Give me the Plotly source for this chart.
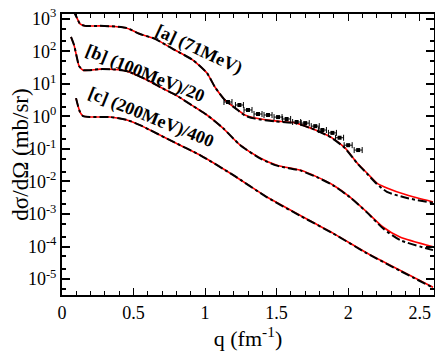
import math

import plotly.graph_objects as go

# curve [a] 71 MeV
q_a = [0.077, 0.105, 0.126, 0.161, 0.266, 0.370, 0.454, 0.545, 0.650, 0.776, 0.915, 1.013, 1.069,
       1.139, 1.209, 1.279, 1.349, 1.488, 1.628, 1.768, 1.887, 1.978, 2.062, 2.131, 2.201, 2.271,
       2.411, 2.593]
a_red = [1.86e3, 1.05e3, 692, 603, 603, 575, 513, 339, 240, 117, 53.7, 21.4, 7.94,
         3.16, 1.82, 1.10, 0.891, 0.724, 0.631, 0.389, 0.219, 0.107, 0.0372, 0.0182, 8.91e-3, 6.31e-3,
         3.80e-3, 2.34e-3]
a_black = [1.86e3, 1.05e3, 692, 603, 603, 575, 513, 339, 240, 117, 53.7, 21.4, 7.94,
           3.16, 1.82, 1.05, 0.85, 0.70, 0.62, 0.385, 0.215, 0.105, 0.0365, 0.0175, 8.3e-3, 4.79e-3,
           3.09e-3, 2.19e-3]

# curve [b] 100 MeV / 20
q_b = [0.063, 0.084, 0.105, 0.119, 0.147, 0.196, 0.266, 0.370, 0.454, 0.580, 0.685, 0.804, 0.915,
       1.013, 1.125, 1.244, 1.384, 1.502, 1.663, 1.782, 1.894, 2.013, 2.131, 2.243, 2.362, 2.593]
b_red = [275, 155, 61.7, 35.5, 26.3, 26.3, 28.2, 27.5, 24.5, 14.1, 7.94, 4.27, 2.09,
         1.10, 0.437, 0.132, 0.0525, 0.0316, 0.0224, 0.0138, 7.76e-3, 3.31e-3, 1.15e-3, 3.98e-4,
         1.95e-4, 9.77e-5]
b_black = [275, 155, 61.7, 35.5, 26.3, 26.3, 28.2, 27.5, 24.5, 14.1, 7.94, 4.27, 2.09,
           1.10, 0.437, 0.132, 0.0510, 0.0305, 0.0218, 0.0135, 7.6e-3, 3.25e-3, 1.12e-3, 3.63e-4,
           1.58e-4, 7.76e-5]

# curve [c] 200 MeV / 400
q_c = [0.098, 0.112, 0.126, 0.147, 0.196, 0.266, 0.335, 0.454, 0.545, 0.615, 0.776, 0.964, 1.195,
       1.433, 1.663, 1.894, 2.131, 2.362, 2.593]
c_red = [3.63, 2.09, 1.35, 1.02, 0.955, 0.955, 0.955, 0.776, 0.537, 0.380, 0.166, 0.0646, 0.0158,
         3.31e-3, 9.12e-4, 2.57e-4, 6.31e-5, 1.86e-5, 5.62e-6]
c_black = [3.63, 2.09, 1.35, 1.02, 0.955, 0.955, 0.955, 0.776, 0.537, 0.380, 0.166, 0.0646, 0.0158,
           3.25e-3, 8.9e-4, 2.52e-4, 6.2e-5, 1.80e-5, 5.4e-6]

# 71 MeV data points
q_data = [1.16, 1.24, 1.30, 1.37, 1.44, 1.51, 1.57, 1.64, 1.70, 1.77, 1.82, 1.89, 1.94, 2.00, 2.07]
y_data = [2.76, 2.23, 1.57, 1.18, 1.10, 0.95, 0.83, 0.67, 0.62, 0.50, 0.38, 0.31, 0.22, 0.13, 0.092]
qerr_data = [0.028] * len(q_data)

labels = ["[a] (71MeV)", "[b] (100MeV)/20", "[c] (200MeV)/400"]
label_q = [0.955, 0.58, 0.622]
label_y = [110, 21.4, 0.89]
label_angle = [25, 22, 22]

ytick_vals = [1e-5, 1e-4, 1e-3, 1e-2, 1e-1, 1, 10, 100, 1000]
ytick_text = ["10<sup>-5</sup>", "10<sup>-4</sup>", "10<sup>-3</sup>", "10<sup>-2</sup>",
              "10<sup>-1</sup>", "10<sup>0</sup>", "10<sup>1</sup>", "10<sup>2</sup>", "10<sup>3</sup>"]
xtick_vals = [0, 0.5, 1, 1.5, 2, 2.5]
xtick_text = ["0", "0.5", "1", "1.5", "2", "2.5"]

SERIF = "Times New Roman, Liberation Serif, serif"
fig = go.Figure()
for q, red, black in [(q_a, a_red, a_black), (q_b, b_red, b_black), (q_c, c_red, c_black)]:
    fig.add_trace(go.Scatter(x=q, y=red, mode="lines",
                             line=dict(color="red", width=1.6, shape="spline", smoothing=0.6)))
    fig.add_trace(go.Scatter(x=q, y=black, mode="lines",
                             line=dict(color="black", width=2, dash="dashdot", shape="spline", smoothing=0.6)))

fig.add_trace(go.Scatter(
    x=q_data, y=y_data, mode="markers",
    marker=dict(symbol="square", size=4, color="black"),
    error_x=dict(type="data", array=qerr_data, color="black", thickness=1, width=3),
))

for txt, xq, yv, ang in zip(labels, label_q, label_y, label_angle):
    fig.add_annotation(x=xq, y=math.log10(yv), text=f"<b>{txt}</b>", showarrow=False, textangle=ang,
                       font=dict(family=SERIF, size=18, color="black"))

# the page body adds an 8px margin, so the figure is shrunk by 8px to fit the window
fig.update_layout(
    width=435, height=346,
    margin=dict(l=54, r=9, t=6, b=59),
    paper_bgcolor="white", plot_bgcolor="white",
    showlegend=False,
    font=dict(family=SERIF, size=18, color="black"),
)
fig.update_xaxes(
    range=[0, 2.6], tickvals=xtick_vals, ticktext=xtick_text, automargin=False,
    ticklabeloverflow="allow",
    ticks="inside", ticklen=7, tickwidth=1, tickcolor="black",
    tickfont=dict(family=SERIF, size=18),
    minor=dict(ticks="inside", ticklen=4, dtick=0.1, tick0=0, tickcolor="black", showgrid=False),
    showline=True, linecolor="black", linewidth=2, mirror="allticks",
    showgrid=False, zeroline=False,
    title=dict(text="q (fm<sup>-1</sup>)", font=dict(family=SERIF, size=22), standoff=2),
)
fig.update_yaxes(
    type="log", range=[-5.49, 3.145], tickvals=ytick_vals, ticktext=ytick_text, automargin=False,
    ticklabeloverflow="allow",
    ticks="inside", ticklen=8, tickwidth=1.5, tickcolor="black",
    tickfont=dict(family=SERIF, size=18),
    minor=dict(ticks="inside", ticklen=4, tickcolor="black", showgrid=False),
    showline=True, linecolor="black", linewidth=2, mirror="allticks",
    showgrid=False, zeroline=False,
    title=dict(text="dσ/dΩ (mb/sr)", font=dict(family=SERIF, size=23), standoff=4),
)
fig.write_html("out.html")
